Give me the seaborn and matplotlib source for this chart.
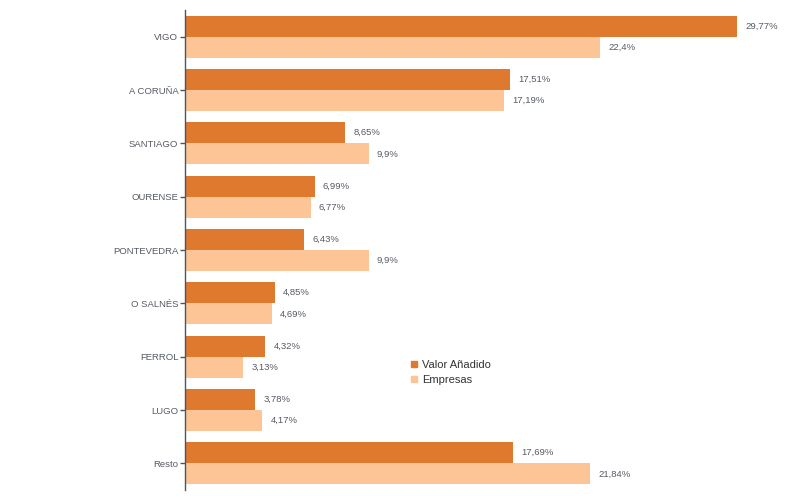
import matplotlib
matplotlib.use("Agg")
import matplotlib.pyplot as plt
import seaborn as sns
import pandas as pd
from matplotlib.lines import Line2D

categories = ["VIGO", "A CORUÑA", "SANTIAGO", "OURENSE", "PONTEVEDRA",
              "O SALNÉS", "FERROL", "LUGO", "Resto"]
valor_anadido = [29.77, 17.51, 8.65, 6.99, 6.43, 4.85, 4.32, 3.78, 17.69]
empresas = [22.4, 17.19, 9.9, 6.77, 9.9, 4.69, 3.13, 4.17, 21.84]
series_names = ["Valor Añadido", "Empresas"]
colors = ["#DF792E", "#FDC596"]

sns.set_theme(style="white")
plt.rcParams['font.family'] = ['Liberation Sans', 'DejaVu Sans']

df = pd.DataFrame({
    "cat": categories * 2,
    "val": valor_anadido + empresas,
    "serie": [series_names[0]] * len(categories) + [series_names[1]] * len(categories),
})

fig = plt.figure(figsize=(8, 5), dpi=100)
ax = fig.add_axes([185/800, 10/500, 605/800, 480/500])
sns.barplot(data=df, y="cat", x="val", hue="serie", order=categories,
            hue_order=series_names, palette=colors, orient="h",
            width=0.79, saturation=1, ax=ax, legend=False, errorbar=None,
            linewidth=0, edgecolor="none")

ax.set_xlim(0, 32.63)
ax.set_ylim(len(categories) - 0.5, -0.5)
ax.set_xlabel("")
ax.set_ylabel("")
ax.set_xticks([])
for s in ["top", "right", "bottom"]:
    ax.spines[s].set_visible(False)
ax.spines["left"].set_color("#4a5565")
ax.spines["left"].set_linewidth(1)
ax.tick_params(axis="y", left=True, length=3.8, width=1, color="#4a5565",
               labelsize=6.8, labelcolor="#555a63", pad=1)

def fmt(v):
    s = f"{v:.2f}".rstrip("0").rstrip(".")
    return s.replace(".", ",") + "%"

for cont in ax.containers:
    ax.bar_label(cont, labels=[fmt(b.get_width()) for b in cont],
                 padding=6, fontsize=6.8, color="#555a63")

handles = [Line2D([], [], marker="s", linestyle="none", markersize=5,
                  markerfacecolor=c, markeredgecolor=c) for c in colors]
ax.legend(handles, series_names, loc="lower left",
          bbox_to_anchor=(0.36, 0.208), frameon=False, fontsize=8,
          handletextpad=0.2, labelspacing=0.45, borderpad=0, handlelength=1,
          labelcolor="#333333")

fig.savefig("out.png", dpi=100)
